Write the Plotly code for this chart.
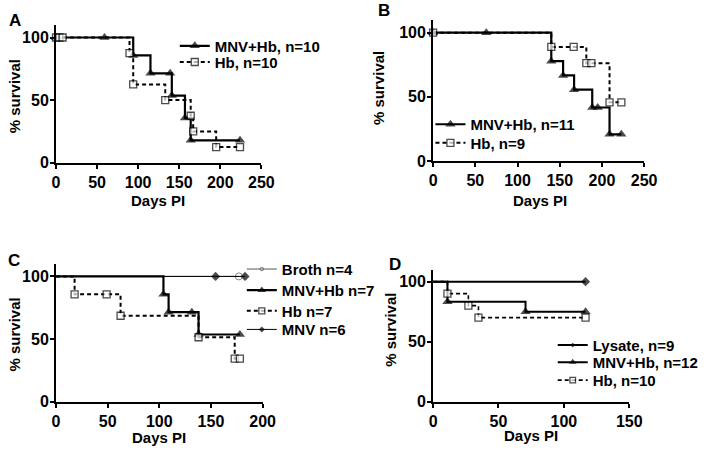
import plotly.graph_objects as go

# ---------------- data ----------------
# Panel A
a_mnvhb_days = [0, 59, 94, 115, 139, 141, 157, 164, 224]
a_mnvhb_surv = [100, 100, 85.7, 71.4, 71.4, 53.6, 35.7, 17.9, 17.9]
a_hb_days = [0, 4, 8, 89.5, 94, 133, 164, 167, 195, 224]
a_hb_surv = [100, 100, 100, 87.5, 62.5, 50, 37.5, 25, 12.5, 12.5]

# Panel B
b_mnvhb_days = [0, 63, 140, 154, 167, 188.5, 195, 209, 223]
b_mnvhb_surv = [100, 100, 77.8, 66.7, 55.6, 41.7, 41.7, 20.8, 20.8]
b_hb_days = [0, 140, 166.5, 181.5, 187.5, 209, 223]
b_hb_surv = [100, 88.9, 88.9, 76.2, 76.2, 45.7, 45.7]

# Panel C
c_broth_days = [0, 177]
c_broth_surv = [100, 100]
c_mnvhb_days = [0, 104, 109, 131.5, 138, 178]
c_mnvhb_surv = [100, 85.7, 71.4, 71.4, 53.6, 53.6]
c_hb_days = [0, 18, 49, 62.5, 138, 173, 178]
c_hb_surv = [100, 85.7, 85.7, 68.6, 51.4, 34.3, 34.3]
c_mnv_days = [0, 154.5, 183]
c_mnv_surv = [100, 100, 100]

# Panel D
d_lys_days = [0, 116.6]
d_lys_surv = [100, 100]
d_mnvhb_days = [0, 11, 70.7, 116.6]
d_mnvhb_surv = [100, 83.3, 75, 75]
d_hb_days = [0, 11, 27, 34.7, 116.6]
d_hb_surv = [100, 90, 80, 70, 70]

y_ticks = [0, 50, 100]
x_ticks_a = [0, 50, 100, 150, 200, 250]
x_ticks_b = [0, 50, 100, 150, 200, 250]
x_ticks_c = [0, 50, 100, 150, 200]
x_ticks_d = [0, 50, 100, 150]

# ---------------- style ----------------
FONT = "Arial, Liberation Sans, sans-serif"
W, H = 704, 456

tri = dict(symbol="triangle-up", size=9, color="black", line=dict(color="black", width=0))
sq = dict(symbol="square", size=7, color="white", line=dict(color="black", width=1.3))
dia = dict(symbol="diamond", size=7, color="black", line=dict(color="black", width=0))
circ = dict(symbol="circle-open", size=7, color="#555555", line=dict(color="#555555", width=1))


def px_x(p):
    return p / W


def px_y(p):
    return 1 - p / H


legfont = dict(family=FONT, size=15, color="black", weight="bold")
legends = {}


def make_legend(key, text_start, row_center):
    legends[key] = dict(x=px_x(text_start - 38), y=px_y(row_center), xanchor="left",
                        yanchor="middle", bgcolor="rgba(0,0,0,0)", borderwidth=0,
                        font=legfont, tracegroupgap=0, itemwidth=30)


fig = go.Figure()
counter = [0]


def add(x, y, name, xa, ya, marker, width, dash, text_start, row_center,
        hide_first=False, color="black"):
    counter[0] += 1
    key = "legend" if counter[0] == 1 else "legend%d" % counter[0]
    make_legend(key, text_start, row_center)
    m = dict(marker)
    sz = [marker["size"]] * len(x)
    if hide_first:
        sz[0] = 0
    m["size"] = sz
    fig.add_trace(go.Scatter(
        x=x, y=y, name=name, mode="lines+markers",
        line=dict(shape="hv", color=color, width=width, dash=dash),
        marker=m, xaxis=xa, yaxis=ya, legend=key, cliponaxis=False,
    ))


DASH = "4px,3px"
# A
add(a_mnvhb_days, a_mnvhb_surv, "MNV+Hb, n=10", "x", "y", tri, 2.2, "solid", 213, 47)
add(a_hb_days, a_hb_surv, "Hb, n=10", "x", "y", sq, 2.0, DASH, 213, 63.5)
# B
add(b_mnvhb_days, b_mnvhb_surv, "MNV+Hb, n=11", "x2", "y2", tri, 2.2, "solid", 475, 127)
add(b_hb_days, b_hb_surv, "Hb, n=9", "x2", "y2", sq, 2.0, DASH, 475, 146)
# C
add(c_broth_days, c_broth_surv, "Broth n=4", "x3", "y3", circ, 1.0, "solid", 281.7, 274.7,
    True, color="#555555")
add(c_mnvhb_days, c_mnvhb_surv, "MNV+Hb n=7", "x3", "y3", tri, 2.2, "solid", 281.7, 296.3, True)
add(c_hb_days, c_hb_surv, "Hb n=7", "x3", "y3", sq, 2.0, DASH, 281.7, 317.3, True)
add(c_mnv_days, c_mnv_surv, "MNV n=6", "x3", "y3", dia, 1.0, "solid", 281.7, 336.3, True)
# D
add(d_lys_days, d_lys_surv, "Lysate, n=9", "x4", "y4", dia, 2.0, "solid", 600.3, 352.3, True)
add(d_mnvhb_days, d_mnvhb_surv, "MNV+Hb, n=12", "x4", "y4", tri, 2.0, "solid", 600.3, 369.7, True)
add(d_hb_days, d_hb_surv, "Hb, n=10", "x4", "y4", sq, 1.6, DASH, 600.3, 388, True)

tickfont = dict(family=FONT, size=16, color="black", weight="bold")


def xaxis(dom, rng, ticks, anchor):
    return dict(domain=dom, range=rng, tickvals=ticks, ticktext=[str(t) for t in ticks],
                showline=True, linecolor="black", linewidth=2, ticks="outside",
                ticklen=4, tickwidth=2, tickcolor="black", showgrid=False, zeroline=False,
                tickfont=tickfont, anchor=anchor, fixedrange=True)


def yaxis(dom, ticks, anchor):
    return dict(domain=dom, range=[0, 110], tickvals=ticks, ticktext=[str(t) for t in ticks],
                showline=True, linecolor="black", linewidth=2, ticks="outside",
                ticklen=4, tickwidth=2, tickcolor="black", showgrid=False, zeroline=False,
                tickfont=tickfont, anchor=anchor, fixedrange=True, ticklabelstandoff=-2)


annots = []


def text(s, xp, yp, size=15, angle=0):
    annots.append(dict(text=s, x=px_x(xp), y=px_y(yp), xref="paper", yref="paper",
                       showarrow=False, xanchor="center", yanchor="middle", textangle=angle,
                       font=dict(family=FONT, size=size, color="black", weight="bold")))


text("A", 11, 21, 17)
text("B", 389.5, 11, 17)
text("C", 10.5, 265.5, 17)
text("D", 401, 269.5, 17)
text("Days PI", 158, 205)
text("Days PI", 549, 205)
text("Days PI", 159, 446)
text("Days PI", 540, 444)
text("% survival", 10.5, 98, 15, -90)
text("% survival", 383, 90, 15, -90)
text("% survival", 10.5, 341, 15, -90)
text("% survival", 396, 336, 15, -90)

fig.update_layout(
    width=W, height=H, margin=dict(l=0, r=0, t=0, b=0),
    paper_bgcolor="white", plot_bgcolor="white",
    xaxis=xaxis([px_x(53.3), px_x(263.7)], [0, 250], x_ticks_a, "y"),
    yaxis=yaxis([px_y(166), px_y(25.5)], y_ticks, "x"),
    xaxis2=xaxis([px_x(439.7), px_x(656)], [0, 250], x_ticks_b, "y2"),
    yaxis2=yaxis([px_y(164.3), px_y(20.2)], y_ticks, "x2"),
    xaxis3=xaxis([px_x(53.3), px_x(265)], [0, 200], x_ticks_c, "y3"),
    yaxis3=yaxis([px_y(409.7), px_y(269.2)], y_ticks, "x3"),
    xaxis4=xaxis([px_x(439.7), px_x(640.7)], [0, 150], x_ticks_d, "y4"),
    yaxis4=yaxis([px_y(409.7), px_y(275.1)], y_ticks, "x4"),
    annotations=annots,
    showlegend=True,
    **legends,
)

fig.write_html("out.html", config={"displayModeBar": False},
               post_script="document.body.style.margin='0';")
